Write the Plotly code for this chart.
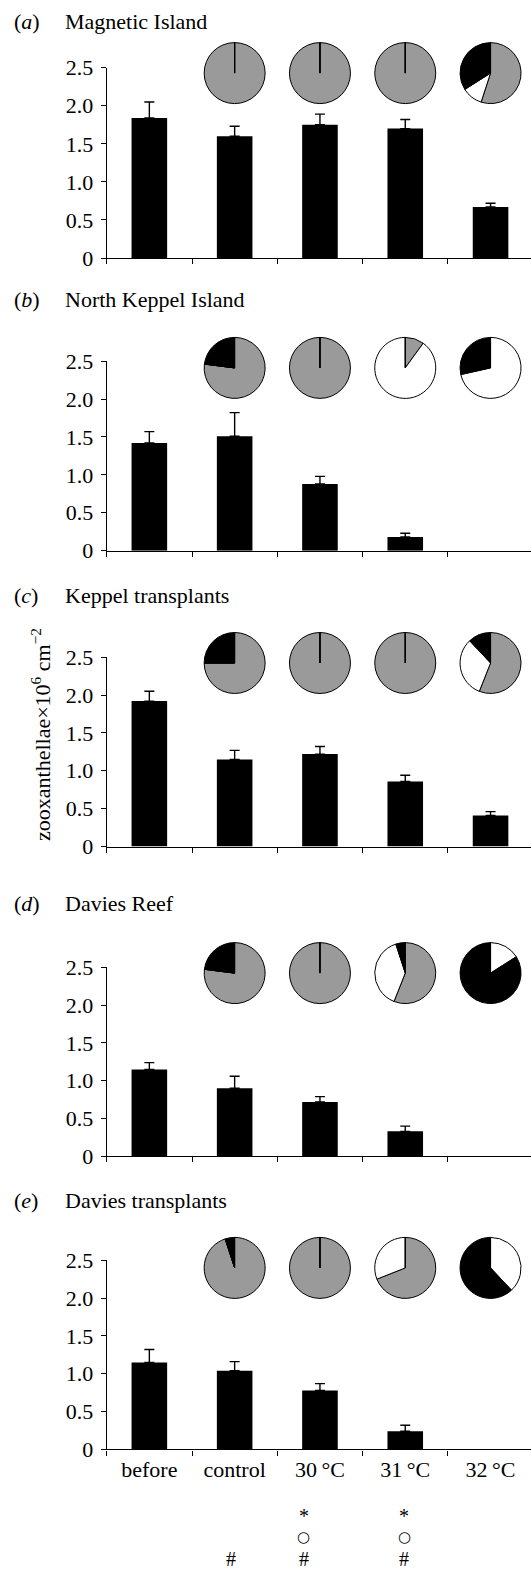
import plotly.graph_objects as go

# ---------------- data ----------------
categories = ["before", "control", "30\u2009°C", "31\u2009°C", "32\u2009°C"]
tick_vals = [0, 0.5, 1.0, 1.5, 2.0, 2.5]
tick_text = ["0", "0.5", "1.0", "1.5", "2.0", "2.5"]

panel_letters = ["a", "b", "c", "d", "e"]
panel_titles = ["Magnetic Island", "North Keppel Island", "Keppel transplants",
                "Davies Reef", "Davies transplants"]

a_mean = [1.84, 1.60, 1.75, 1.70, 0.67]
a_err = [0.21, 0.13, 0.14, 0.12, 0.05]
b_mean = [1.42, 1.51, 0.88, 0.18, None]
b_err = [0.15, 0.31, 0.10, 0.05, None]
c_mean = [1.92, 1.15, 1.22, 0.86, 0.41]
c_err = [0.13, 0.12, 0.10, 0.08, 0.05]
d_mean = [1.15, 0.90, 0.72, 0.33, None]
d_err = [0.09, 0.16, 0.07, 0.07, None]
e_mean = [1.15, 1.04, 0.78, 0.24, None]
e_err = [0.17, 0.12, 0.09, 0.08, None]

# pie proportions (%), clockwise from 12 o'clock: grey, white, black
pie_categories = ["control", "30\u2009°C", "31\u2009°C", "32\u2009°C"]
a_pies = [[100, 0, 0], [100, 0, 0], [100, 0, 0], [55, 11, 34]]
b_pies = [[77, 0, 23], [100, 0, 0], [10, 90, 0], [0, 71.5, 28.5]]
c_pies = [[75, 0, 25], [100, 0, 0], [100, 0, 0], [56, 32, 12]]
d_pies = [[77, 0, 23], [100, 0, 0], [56, 39, 5], [0, 16, 84]]
e_pies = [[95, 0, 5], [100, 0, 0], [69, 31, 0], [0, 38, 62]]

# significance symbols under the x axis (rows: *, o, #)
star_cats = ["30\u2009°C", "31\u2009°C"]
circle_cats = ["30\u2009°C", "31\u2009°C"]
hash_cats = ["control", "30\u2009°C", "31\u2009°C"]

means = [a_mean, b_mean, c_mean, d_mean, e_mean]
errs = [a_err, b_err, c_err, d_err, e_err]
pies = [a_pies, b_pies, c_pies, d_pies, e_pies]

# ---------------- layout geometry (pixels) ----------------
W, H = 531, 1571
FONT = "Liberation Serif, Times New Roman, serif"
FS = 22
x_left = 106.7          # y-axis position
cat_w = 85.3            # width of a category
# (top of axis = 2.5, bottom = 0, title centre, pie centre)
panel_geo = [
    (67.7, 258.0, 22.0, 73.1),
    (361.1, 550.7, 299.5, 367.9),
    (657.2, 846.5, 595.2, 663.0),
    (967.4, 1156.3, 903.7, 973.1),
    (1260.3, 1449.4, 1200.0, 1267.9),
]
pie_r = 30.5
pie_colors = ["#9a9a9a", "#ffffff", "#000000"]


def fx(px):
    return px / W


def fy(py):
    return 1 - py / H


x_range = [-0.5, -0.5 + (W - x_left) / cat_w]

fig = go.Figure()
layout = dict(
    template="none",
    width=W, height=H,
    margin=dict(l=0, r=0, t=0, b=0, pad=0, autoexpand=False),
    paper_bgcolor="white", plot_bgcolor="white",
    showlegend=False,
    font=dict(family=FONT, size=FS, color="black"),
    annotations=[],
)

for i in range(5):
    top, bot, ty, pcy = panel_geo[i]
    sfx = "" if i == 0 else str(i + 1)
    xa = "x" + sfx
    ya = "y" + sfx
    fig.add_trace(go.Bar(
        x=categories, y=means[i],
        xaxis=xa, yaxis=ya,
        width=0.417,
        marker=dict(color="black", line=dict(width=0)),
        error_y=dict(type="data", array=errs[i], arrayminus=[0] * 5,
                     symmetric=False, color="black", thickness=1.4, width=5),
        hoverinfo="skip",
    ))
    layout["xaxis" + sfx] = dict(
        domain=[fx(x_left), 1.0], anchor=ya,
        type="category", categoryorder="array", categoryarray=categories,
        range=x_range, automargin=False,
        showline=True, linecolor="black", linewidth=1.2,
        ticks="outside", ticklen=5, tickcolor="black", tickwidth=1.2,
        tickson="boundaries",
        showgrid=False, zeroline=False,
        showticklabels=(i == 4),
        tickfont=dict(family=FONT, size=FS, color="black"),
        fixedrange=True,
    )
    layout["yaxis" + sfx] = dict(
        domain=[fy(bot), fy(top)], anchor=xa,
        range=[0, 2.5], automargin=False,
        tickvals=tick_vals, ticktext=tick_text,
        showline=True, linecolor="black", linewidth=1.2,
        ticks="outside", ticklen=5, tickcolor="black", tickwidth=1.2,
        showgrid=False, zeroline=False,
        tickfont=dict(family=FONT, size=FS, color="black"),
        ticklabelstandoff=3,
        fixedrange=True,
    )
    # panel title
    layout["annotations"].append(dict(
        text="(<i>%s</i>)" % panel_letters[i], xref="paper", yref="paper",
        x=fx(11.5), y=fy(ty), xanchor="left", yanchor="middle",
        showarrow=False, font=dict(family=FONT, size=FS, color="black")))
    layout["annotations"].append(dict(
        text=panel_titles[i], xref="paper", yref="paper",
        x=fx(62.5), y=fy(ty), xanchor="left", yanchor="middle",
        showarrow=False, font=dict(family=FONT, size=FS, color="black")))
    # pies
    for j, vals in enumerate(pies[i]):
        ci = categories.index(pie_categories[j])
        cx = x_left + cat_w * (ci + 0.5)
        fig.add_trace(go.Pie(
            values=vals, labels=["grey", "white", "black"],
            marker=dict(colors=pie_colors, line=dict(color="black", width=1)),
            sort=False, direction="clockwise", rotation=0,
            textinfo="none", hoverinfo="skip", showlegend=False,
            domain=dict(x=[fx(cx - pie_r), fx(cx + pie_r)],
                        y=[fy(pcy + pie_r), fy(pcy - pie_r)]),
        ))

# y-axis title
layout["annotations"].append(dict(
    text="zooxanthellae×10<sup>6</sup> cm<sup>−2</sup>",
    xref="paper", yref="paper", x=fx(41), y=fy(735),
    xanchor="center", yanchor="middle", textangle=-90,
    showarrow=False, font=dict(family=FONT, size=FS, color="black")))

# significance symbols below bottom panel
sym_shift = {"control": -4, "30\u2009°C": -16, "31\u2009°C": -1}
for c in star_cats:
    layout["annotations"].append(dict(
        text="*", xref="x5", yref="paper", x=c, xshift=sym_shift[c],
        y=fy(1515.5), xanchor="center", yanchor="middle", showarrow=False,
        font=dict(family=FONT, size=20, color="black")))
for c in circle_cats:
    layout["annotations"].append(dict(
        text="○", xref="x5", yref="paper", x=c, xshift=sym_shift[c],
        y=fy(1537.0), xanchor="center", yanchor="middle", showarrow=False,
        font=dict(family="DejaVu Sans", size=15, color="black")))
for c in hash_cats:
    layout["annotations"].append(dict(
        text="#", xref="x5", yref="paper", x=c, xshift=sym_shift[c],
        y=0, xanchor="center", yanchor="bottom", borderpad=0,
        showarrow=False, font=dict(family=FONT, size=20, color="black")))

fig.update_layout(**layout)
fig.write_html(
    "out.html",
    config={"displayModeBar": False},
    post_script="document.body.style.margin='0';"
                "document.body.style.overflow='hidden';"
                "document.documentElement.style.overflow='hidden';",
)
